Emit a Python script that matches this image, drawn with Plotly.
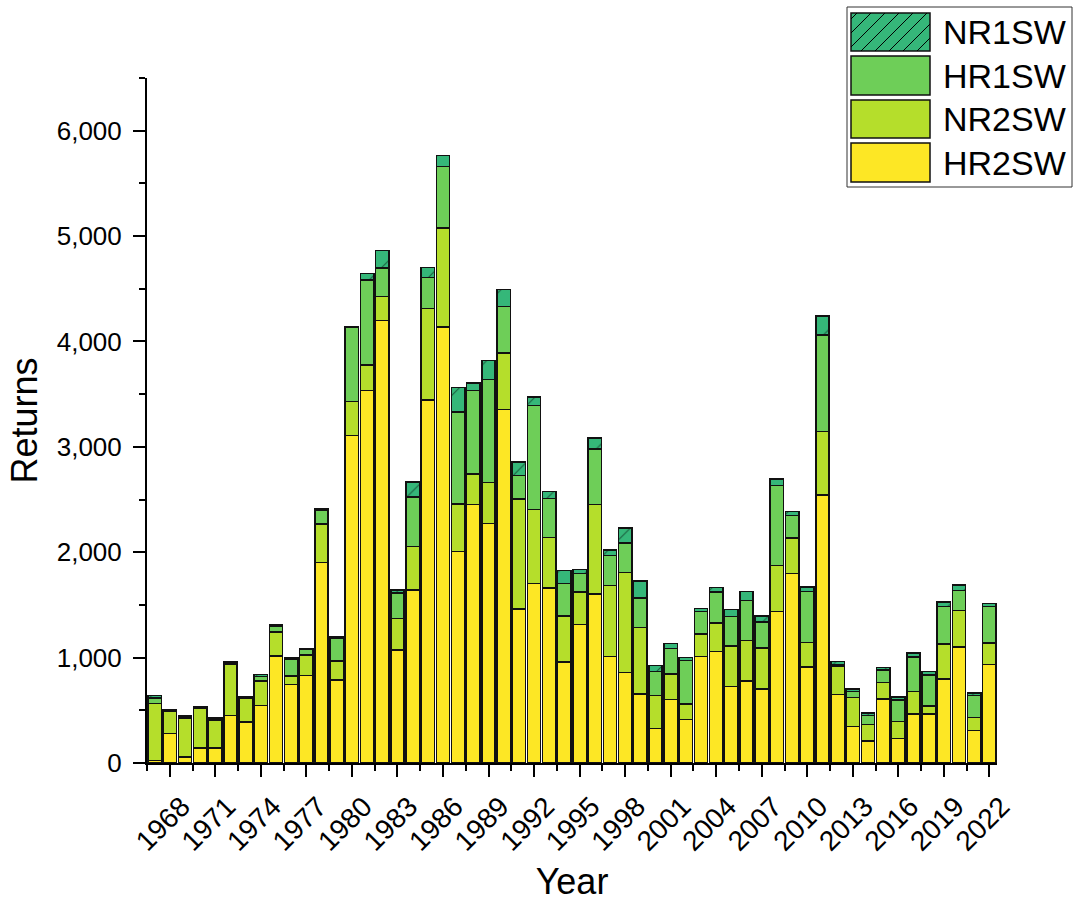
import plotly.graph_objects as go

# Yearly returns by group (stacked bottom to top: HR2SW, NR2SW, HR1SW, NR1SW)
years = list(range(1967, 2023))

hr2sw = [25, 278, 57, 142, 142, 453, 389, 547, 1016, 744,
         829, 1904, 786, 3106, 3537, 4197, 1072, 1644, 3445, 4136,
         2007, 2453, 2274, 3354, 1461, 1702, 1663, 958, 1312, 1604,
         1013, 861, 655, 326, 601, 411, 1013, 1060, 728, 779,
         704, 1436, 1797, 911, 2544, 652, 345, 209, 605, 231,
         465, 465, 795, 1101, 307, 934]

nr2sw = [538, 212, 364, 380, 263, 484, 222, 231, 228, 82,
         197, 362, 183, 324, 240, 229, 298, 412, 870, 942,
         450, 290, 389, 538, 1042, 705, 477, 438, 313, 849,
         671, 949, 633, 313, 244, 149, 212, 269, 380, 382,
         386, 440, 339, 232, 600, 270, 275, 155, 158, 161,
         212, 76, 332, 348, 127, 205]

hr1sw = [54, 4, 16, 4, 13, 10, 8, 45, 57, 161,
         50, 134, 218, 702, 805, 271, 244, 466, 294, 580,
         874, 790, 977, 442, 225, 985, 370, 306, 172, 528,
         284, 279, 278, 231, 240, 412, 215, 294, 284, 382,
         250, 757, 211, 483, 918, 10, 57, 89, 120, 206,
         327, 295, 357, 190, 205, 348]

nr1sw = [25, 15, 15, 12, 12, 18, 14, 16, 15, 10,
         10, 15, 11, 11, 65, 164, 30, 145, 95, 107,
         232, 72, 179, 160, 126, 80, 65, 126, 38, 104,
         51, 139, 159, 54, 51, 31, 28, 42, 64, 83,
         53, 61, 40, 46, 179, 30, 26, 22, 22, 26,
         38, 31, 42, 48, 26, 26]

x_ticks = list(range(1968, 2023, 3))
y_ticks = list(range(0, 6001, 1000))

FONT = "Arial, 'Liberation Sans', sans-serif"
EDGE = "#111111"

series = [
    ("HR2SW", hr2sw, "#fde725", False),
    ("NR2SW", nr2sw, "#b5de2b", False),
    ("HR1SW", hr1sw, "#6ece58", False),
    ("NR1SW", nr1sw, "#35b779", True),
]

fig = go.Figure()
for name, vals, color, hatched in series:
    marker = dict(color=color, line=dict(color=EDGE, width=1.5))
    if hatched:
        marker["pattern"] = dict(shape="/", fgcolor="#000000", bgcolor=color,
                                 size=20, solidity=0.05, fillmode="overlay")
    fig.add_trace(go.Bar(x=years, y=vals, name=name, marker=marker,
                         width=0.88, showlegend=False))

# plot area in pixels: x 147..997, y 78..763
L, R, T, B = 147, 997, 78, 763
W, H = 1078, 902


def px(X):
    return (X - L) / (R - L)


def py(Y):
    return (B - Y) / (B - T)


shapes = []
annotations = []

# legend frame
shapes.append(dict(type="rect", xref="paper", yref="paper",
                   x0=px(847), x1=px(1072), y0=py(187), y1=py(7),
                   line=dict(color="#333333", width=1), fillcolor="white",
                   layer="above"))

legend_rows = [
    ("NR1SW", "#35b779", True, 13, 51),
    ("HR1SW", "#6ece58", False, 56, 95),
    ("NR2SW", "#b5de2b", False, 100, 138),
    ("HR2SW", "#fde725", False, 143, 182),
]
sx0, sx1 = 851, 930
for name, color, hatched, ytop, ybot in legend_rows:
    shapes.append(dict(type="rect", xref="paper", yref="paper",
                       x0=px(sx0), x1=px(sx1), y0=py(ybot), y1=py(ytop),
                       line=dict(color=EDGE, width=1.5), fillcolor=color,
                       layer="above"))
    if hatched:
        h = ybot - ytop
        step = 14
        a = sx0 - h + 6
        while a < sx1:
            t0 = max(0, sx0 - a)
            t1 = min(h, sx1 - a)
            if t1 - t0 > 1:
                shapes.append(dict(type="line", xref="paper", yref="paper",
                                   x0=px(a + t0), y0=py(ybot - t0),
                                   x1=px(a + t1), y1=py(ybot - t1),
                                   line=dict(color="#000000", width=1),
                                   layer="above"))
            a += step
    annotations.append(dict(xref="paper", yref="paper", x=px(941),
                            y=py((ytop + ybot) / 2), text=name,
                            showarrow=False, xanchor="left", yanchor="middle",
                            font=dict(family=FONT, size=34, color="black")))

fig.update_layout(
    width=W, height=H,
    margin=dict(l=L, r=W - R, t=T, b=H - B, pad=0, autoexpand=False),
    paper_bgcolor="white", plot_bgcolor="white",
    barmode="stack", bargap=0.12,
    font=dict(family=FONT, color="black"),
    shapes=shapes, annotations=annotations,
    showlegend=False,
)

fig.update_xaxes(
    range=[1966.5, 2022.5], automargin=False,
    tickmode="array", tickvals=x_ticks, ticktext=[str(v) for v in x_ticks],
    tickangle=-45, tickfont=dict(family=FONT, size=28, color="black"),
    ticklabelshift=12, ticklabelstandoff=2,
    ticks="outside", ticklen=12, tickwidth=2, tickcolor="black",
    minor=dict(tick0=1966.5, dtick=1.5, ticks="outside", ticklen=6,
               tickwidth=2, tickcolor="black"),
    showline=True, linecolor="black", linewidth=2,
    showgrid=False, zeroline=False,
    title=dict(text="Year", font=dict(family=FONT, size=36, color="black"),
               standoff=20),
)

fig.update_yaxes(
    range=[0, 6500], automargin=False,
    tickmode="array", tickvals=y_ticks, ticktext=[f"{v:,}" for v in y_ticks],
    tickfont=dict(family=FONT, size=26, color="black"),
    ticklabelstandoff=6,
    ticks="outside", ticklen=12, tickwidth=2, tickcolor="black",
    minor=dict(tick0=0, dtick=500, ticks="outside", ticklen=6,
               tickwidth=2, tickcolor="black"),
    showline=True, linecolor="black", linewidth=2,
    showgrid=False, zeroline=False,
    title=dict(text="Returns", font=dict(family=FONT, size=36, color="black"),
               standoff=8),
)

fig.write_html("out.html")
